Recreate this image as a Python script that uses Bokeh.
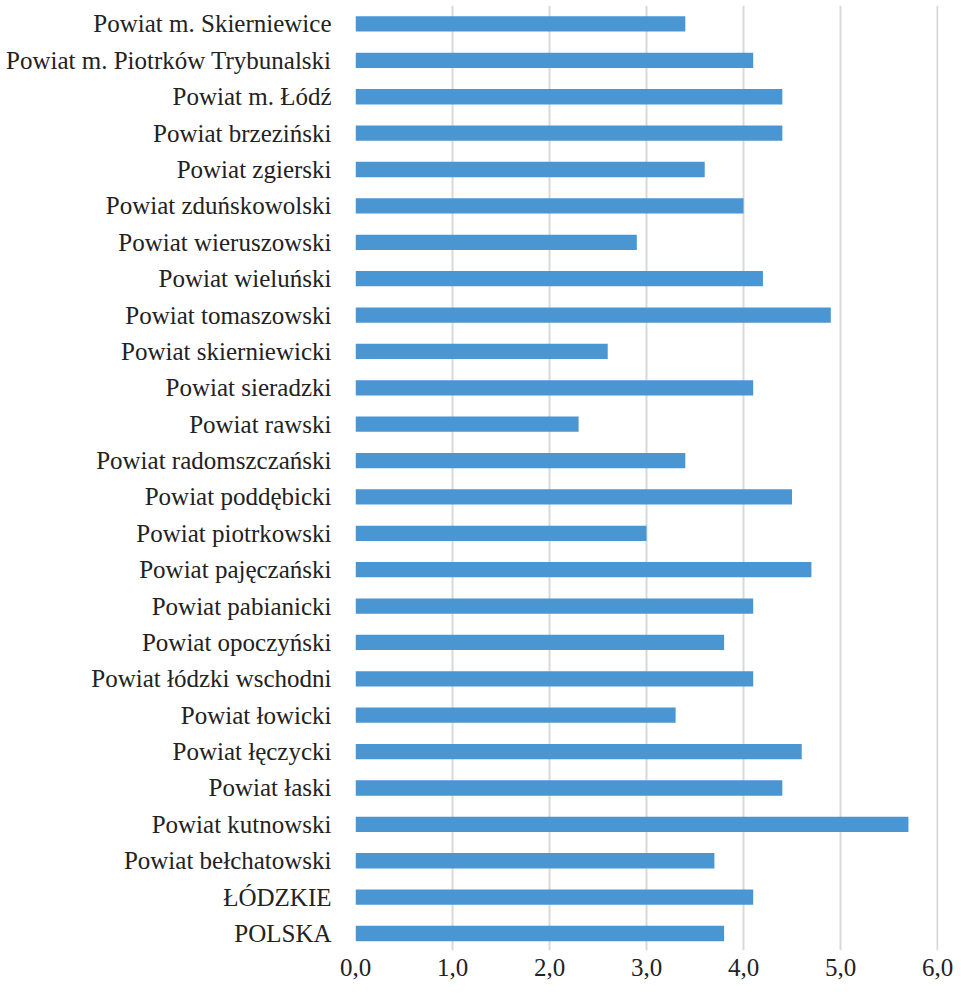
from bokeh.plotting import figure
from bokeh.models import ColumnDataSource, Range1d, FixedTicker
from bokeh.embed import file_html
from bokeh.resources import INLINE

categories = [
    "Powiat m. Skierniewice",
    "Powiat m. Piotrków Trybunalski",
    "Powiat m. Łódź",
    "Powiat brzeziński",
    "Powiat zgierski",
    "Powiat zduńskowolski",
    "Powiat wieruszowski",
    "Powiat wieluński",
    "Powiat tomaszowski",
    "Powiat skierniewicki",
    "Powiat sieradzki",
    "Powiat rawski",
    "Powiat radomszczański",
    "Powiat poddębicki",
    "Powiat piotrkowski",
    "Powiat pajęczański",
    "Powiat pabianicki",
    "Powiat opoczyński",
    "Powiat łódzki wschodni",
    "Powiat łowicki",
    "Powiat łęczycki",
    "Powiat łaski",
    "Powiat kutnowski",
    "Powiat bełchatowski",
    "ŁÓDZKIE",
    "POLSKA",
]
values = [3.4, 4.1, 4.4, 4.4, 3.6, 4.0, 2.9, 4.2, 4.9, 2.6, 4.1, 2.3, 3.4,
          4.5, 3.0, 4.7, 4.1, 3.8, 4.1, 3.3, 4.6, 4.4, 5.7, 3.7, 4.1, 3.8]
x_ticks = [0, 1, 2, 3, 4, 5, 6]
x_tick_labels = ["0,0", "1,0", "2,0", "3,0", "4,0", "5,0", "6,0"]

n = len(categories)
ypos = [n - 1 - i for i in range(n)]
src = ColumnDataSource(dict(y=ypos, v=values, name=categories))

p = figure(width=953, height=983, output_backend="svg", toolbar_location=None,
           x_range=Range1d(0, 6.01), y_range=Range1d(-0.467, n - 1 + 0.508),
           min_border_left=355, min_border_right=15, min_border_top=5,
           min_border_bottom=33)
p.outline_line_color = None
p.background_fill_color = "white"

p.hbar(y="y", right="v", left=0, height=0.42, source=src,
       fill_color="#4a96d3", line_color=None)

FONT = "Liberation Serif"
# x axis
p.xaxis.ticker = FixedTicker(ticks=x_ticks)
p.xaxis.major_label_overrides = {t: l for t, l in zip(x_ticks, x_tick_labels)}
p.xaxis.axis_line_color = None
p.xaxis.major_tick_line_color = None
p.xaxis.minor_tick_line_color = None
p.xaxis.major_label_text_font = FONT
p.xaxis.major_label_text_font_size = "25px"
p.xaxis.major_label_text_color = "#222222"
p.xaxis.major_label_standoff = 2

# y axis
p.yaxis.ticker = FixedTicker(ticks=ypos)
p.yaxis.major_label_overrides = {y: c for y, c in zip(ypos, categories)}
p.yaxis.axis_line_color = None
p.yaxis.major_tick_line_color = None
p.yaxis.minor_tick_line_color = None
p.yaxis.major_label_text_font = FONT
p.yaxis.major_label_text_font_size = "25px"
p.yaxis.major_label_text_color = "#222222"
p.yaxis.major_label_standoff = 18

p.xgrid.grid_line_color = "#d9d9d9"
p.xgrid.grid_line_width = 2
p.ygrid.grid_line_color = None

open("out.html", "w").write(file_html(p, INLINE))
